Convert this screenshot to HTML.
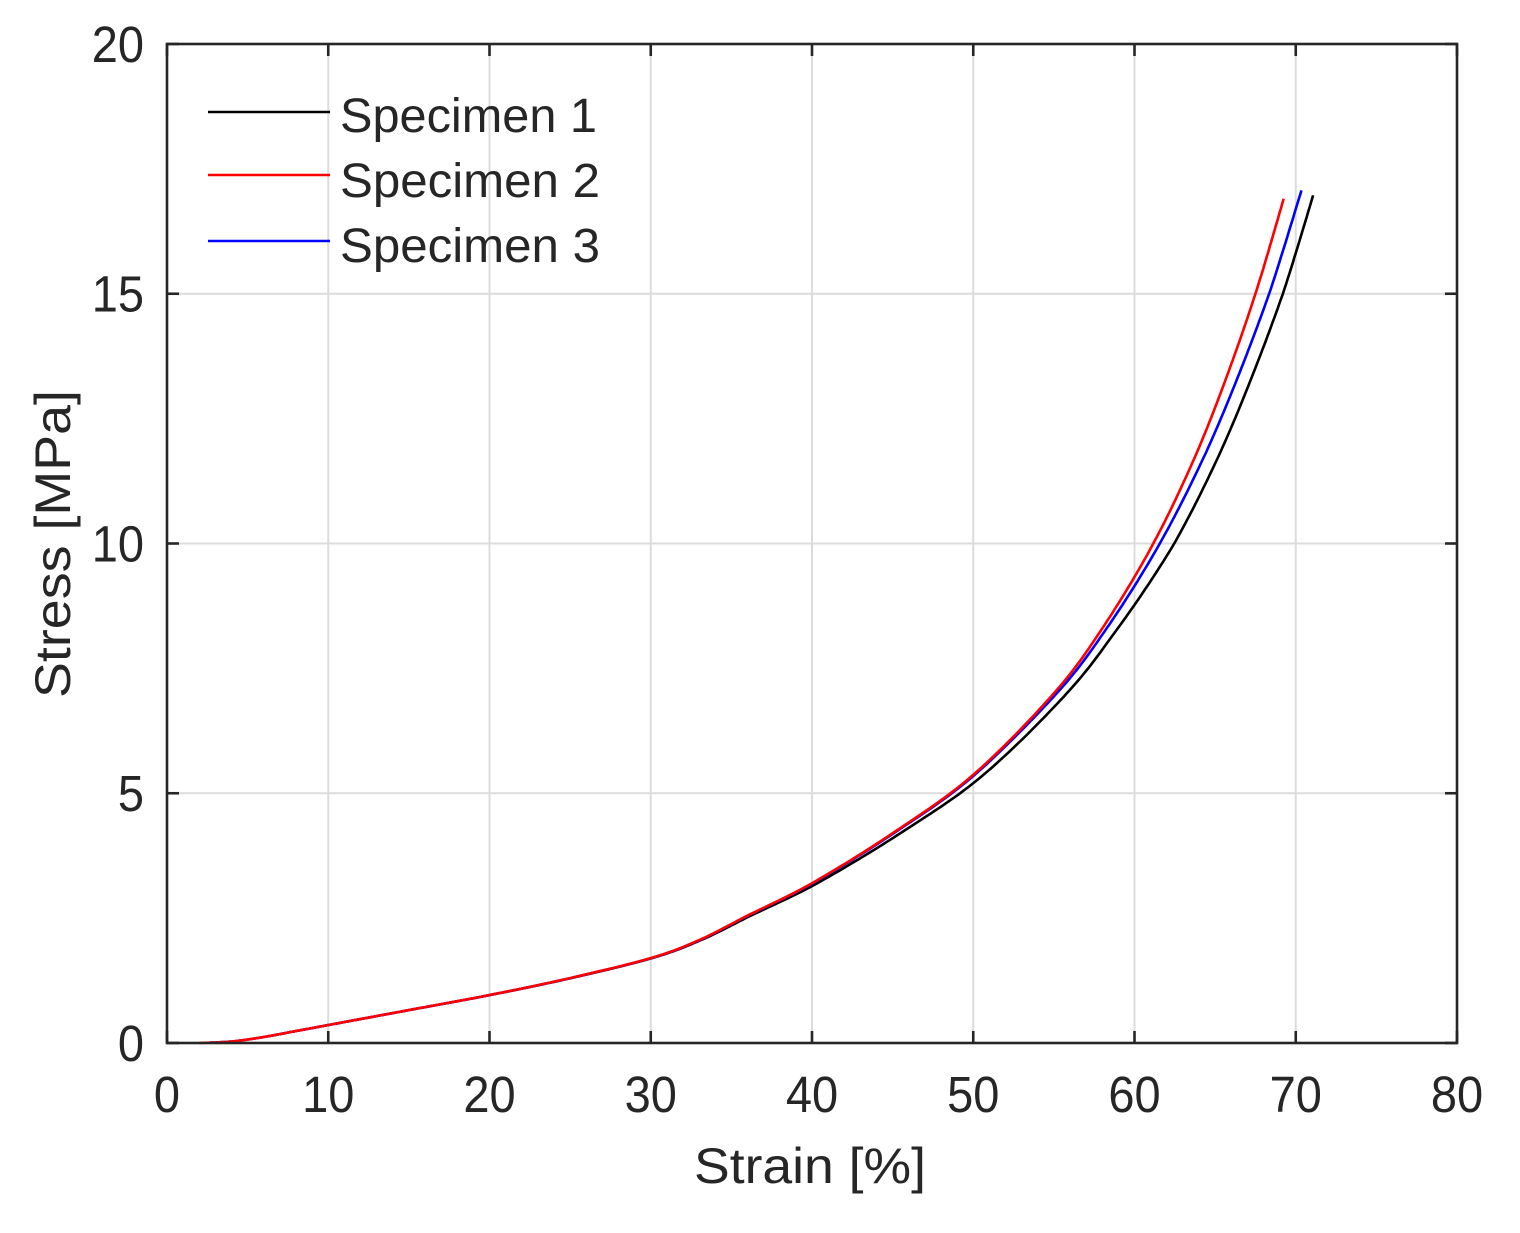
<!DOCTYPE html>
<html><head><meta charset="utf-8"><style>
html,body{margin:0;padding:0;background:#fff;}
svg{display:block;}
text{font-family:"Liberation Sans",Arial,sans-serif;fill:#262626;}
</style></head><body>
<svg id="s" width="1520" height="1233" viewBox="0 0 1520 1233" xmlns="http://www.w3.org/2000/svg">
<rect width="1520" height="1233" fill="#fff"/>
<g id="grid" stroke="#dcdcdc" stroke-width="2"></g>
<g id="curves" fill="none" stroke-width="2.6" stroke-linejoin="round"></g>
<rect x="167" y="44" width="1290" height="999" fill="none" stroke="#262626" stroke-width="2.6"/>
<g id="ticks" stroke="#262626" stroke-width="2.6"></g>
<g id="labels" font-size="47"></g>
<text x="810" y="1183" font-size="50" text-anchor="middle" textLength="232" lengthAdjust="spacingAndGlyphs">Strain [%]</text>
<text transform="translate(70,544) rotate(-90)" font-size="50" text-anchor="middle" textLength="308" lengthAdjust="spacingAndGlyphs">Stress [MPa]</text>
<line x1="208" y1="112" x2="330" y2="112" stroke="#000" stroke-width="2.6"/>
<line x1="208" y1="175" x2="330" y2="175" stroke="#f00" stroke-width="2.6"/>
<line x1="208" y1="241" x2="330" y2="241" stroke="#00f" stroke-width="2.6"/>
<text x="340" y="132" font-size="48" textLength="257" lengthAdjust="spacingAndGlyphs">Specimen 1</text>
<text x="340" y="197" font-size="48" textLength="260" lengthAdjust="spacingAndGlyphs">Specimen 2</text>
<text x="340" y="262" font-size="48" textLength="260" lengthAdjust="spacingAndGlyphs">Specimen 3</text>
</svg>
<script>
var NS="http://www.w3.org/2000/svg";
var X0=167,SX=16.125,Y0=1043,SY=49.95;
function px(s){return X0+SX*s;} function py(v){return Y0-SY*v;}
function el(p,t,a,txt){var e=document.createElementNS(NS,t);for(var k in a)e.setAttribute(k,a[k]);if(txt!=null)e.textContent=txt;p.appendChild(e);return e;}
var g=document.getElementById('grid'),tk=document.getElementById('ticks'),lb=document.getElementById('labels');
var SC=1.08;
for(var i=0;i<=80;i+=10){var x=px(i);
 if(i>0&&i<80)el(g,'line',{x1:x,y1:44,x2:x,y2:1043});
 el(tk,'line',{x1:x,y1:1043,x2:x,y2:1031});el(tk,'line',{x1:x,y1:44,x2:x,y2:56});
 el(lb,'text',{x:x,y:1112,'text-anchor':'middle',transform:'translate(0,'+(-1112*(SC-1))+') scale(1,'+SC+')'},String(i));}
for(var j=0;j<=20;j+=5){var y=py(j);
 if(j>0&&j<20)el(g,'line',{x1:167,y1:y,x2:1457,y2:y});
 el(tk,'line',{x1:167,y1:y,x2:179,y2:y});el(tk,'line',{x1:1457,y1:y,x2:1445,y2:y});
 el(lb,'text',{x:144,y:y+18,'text-anchor':'end',transform:'translate(0,'+(-(y+18)*(SC-1))+') scale(1,'+SC+')'},String(j));}
var red=[[2,0],[4,0.03],[6,0.12],[8,0.24],[10,0.36],[15,0.66],[20,0.96],[25,1.3],[30,1.7],[33,2.06],[36,2.55],[40,3.2],[45,4.2],[50,5.37],[55,7.0],[58,8.3],[61,9.9],[63.5,11.55],[65.5,13.15],[67.5,15.0],[69.25,16.9],[69.4,17.1]];
function cr(pts){var out=[];for(var i=0;i<pts.length-1;i++){var p0=pts[Math.max(0,i-1)],p1=pts[i],p2=pts[i+1],p3=pts[Math.min(pts.length-1,i+2)];
 for(var t=0;t<1;t+=0.05){var t2=t*t,t3=t2*t;var f=function(a,b,c,d){return 0.5*(2*b+(-a+c)*t+(2*a-5*b+4*c-d)*t2+(-a+3*b-3*c+d)*t3);};
 out.push([f(p0[0],p1[0],p2[0],p3[0]),f(p0[1],p1[1],p2[1],p3[1])]);}}out.push(pts[pts.length-1]);return out;}
var sm=cr(red);
function lin(tab){return function(v){for(var k=0;k<tab.length-1;k++){if(v<=tab[k+1][0]){var a=tab[k],b=tab[k+1];return a[1]+(b[1]-a[1])*(v-a[0])/(b[0]-a[0]);}}return tab[tab.length-1][1];};}
function mk(dxf,start,end,col){var pts=[],prev=null;for(var k=0;k<sm.length;k++){var s=sm[k][0],v=sm[k][1];var ns=s+dxf(v);if(ns<start)continue;
 if(v>end){if(prev){var f=(end-prev[1])/(v-prev[1]);pts.push(px(prev[0]+(ns-prev[0])*f).toFixed(1)+','+py(end).toFixed(1));}break;}
 pts.push(px(ns).toFixed(1)+','+py(v).toFixed(1));prev=[ns,v];}
 el(document.getElementById('curves'),'polyline',{points:pts.join(' '),stroke:col});}
mk(lin([[0,0],[2,0.1],[3,0.3],[5,0.6],[8,0.9],[10,1.3],[15,1.7],[18,1.8]]),6.3,16.97,'#000');
mk(lin([[0,0],[6,0.1],[10,0.4],[15,0.85],[18,1.0]]),2.6,17.07,'#00f');
mk(function(v){return 0;},2,16.9,'#f00');
</script>
</body></html>
